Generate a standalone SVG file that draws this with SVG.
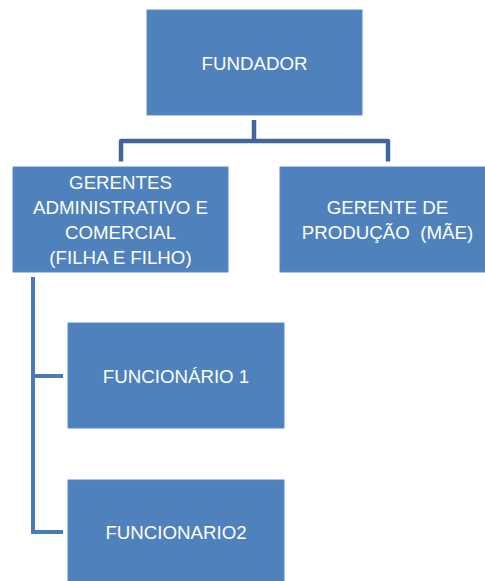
<svg xmlns="http://www.w3.org/2000/svg" width="485" height="581" viewBox="0 0 485 581">
<style>
.box{fill:#4f81bd;stroke:#5a8ac4;stroke-width:1}
.t{font-family:"Liberation Sans",Arial,sans-serif;font-size:18.7px;fill:#ffffff;text-anchor:middle;white-space:pre}
.c1{fill:none;stroke:#3f6898;stroke-width:4.5;stroke-linejoin:round}
.c2{fill:none;stroke:#4a7ab5;stroke-width:4}
</style>
<rect width="485" height="581" fill="#ffffff"/>
<g id="connectors">
<path class="c1" d="M254 120 V141 M121 161.5 V141 H388 V161.5"/>
<path class="c2" d="M33 277 V532 H63 M33 376 H63"/>
</g>
<g id="fundador">
<rect class="box" x="147" y="10" width="215" height="105"/>
<text class="t" x="254.5" y="69.5">FUNDADOR</text>
</g>
<g id="gerentes">
<rect class="box" x="13" y="167" width="215" height="105"/>
<text class="t" x="120.5" y="188.5">GERENTES</text>
<text class="t" x="120.5" y="213.5">ADMINISTRATIVO E</text>
<text class="t" x="120.5" y="238.5">COMERCIAL</text>
<text class="t" x="120.5" y="263.5">(FILHA E FILHO)</text>
</g>
<g id="gerente-producao">
<rect class="box" x="280" y="167" width="215" height="105"/>
<text class="t" x="387.5" y="213.5">GERENTE DE</text>
<text class="t" x="387.5" y="238.5">PRODUÇÃO  (MÃE)</text>
</g>
<g id="funcionario1">
<rect class="box" x="68" y="323" width="216" height="105"/>
<text class="t" x="176" y="382.5">FUNCIONÁRIO 1</text>
</g>
<g id="funcionario2">
<rect class="box" x="68" y="480" width="216" height="105"/>
<text class="t" x="176" y="539">FUNCIONARIO2</text>
</g>
</svg>
